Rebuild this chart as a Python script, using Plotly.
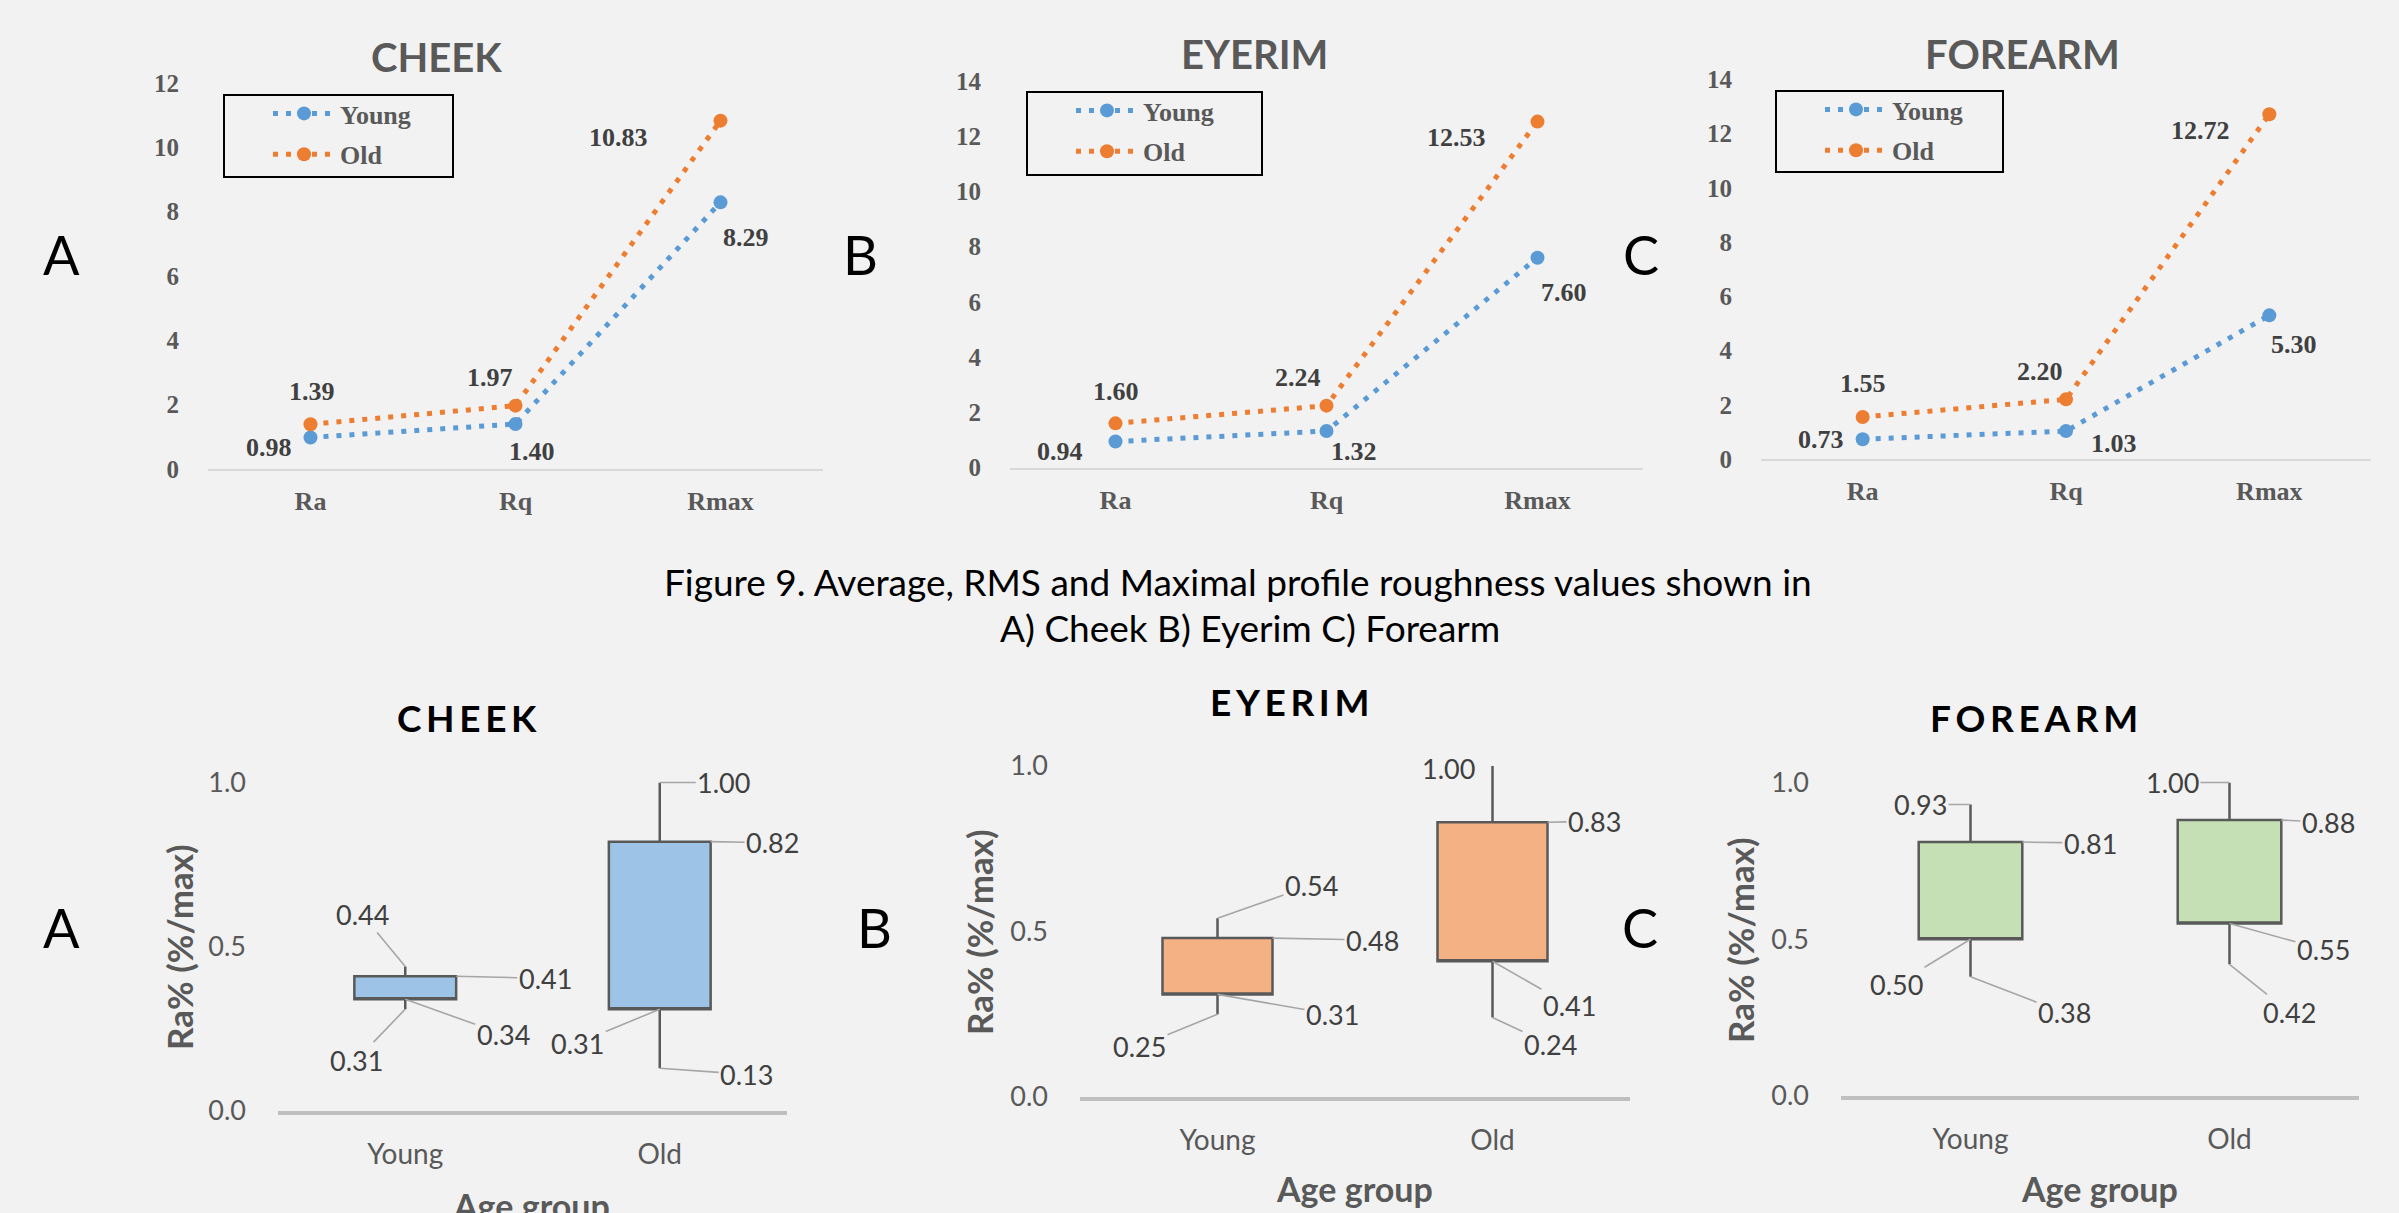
import plotly.graph_objects as go

W, H = 2399, 1213

# ---------------- data ----------------
metrics = ["Ra", "Rq", "Rmax"]
cheek_young = [0.98, 1.40, 8.29]
cheek_old = [1.39, 1.97, 10.83]
eyerim_young = [0.94, 1.32, 7.60]
eyerim_old = [1.60, 2.24, 12.53]
forearm_young = [0.73, 1.03, 5.30]
forearm_old = [1.55, 2.20, 12.72]

age_groups = ["Young", "Old"]
cheek_min = [0.31, 0.13]
cheek_q1 = [0.34, 0.31]
cheek_q3 = [0.41, 0.82]
cheek_max = [0.44, 1.00]
eyerim_min = [0.25, 0.24]
eyerim_q1 = [0.31, 0.41]
eyerim_q3 = [0.48, 0.83]
eyerim_max = [0.54, 1.00]
forearm_min = [0.38, 0.42]
forearm_q1 = [0.50, 0.55]
forearm_q3 = [0.81, 0.88]
forearm_max = [0.93, 1.00]

site_titles = ["CHEEK", "EYERIM", "FOREARM"]
panel_letters = ["A", "B", "C"]
top_y_max = [12, 14, 14]
bottom_y_ticks = [0.0, 0.5, 1.0]
caption_lines = ["Figure 9. Average, RMS and Maximal profile roughness values shown in",
                 "A) Cheek B) Eyerim C) Forearm"]
y_title = "Ra% (%/max)"
x_title = "Age group"

# ---------------- style ----------------
BG = "#F2F2F2"
BLUE = "#5B9BD5"
ORANGE = "#ED7D31"
BOX_FILLS = ["#9DC3E6", "#F4B183", "#C5E0B4"]
SERIF = "Liberation Serif"
SANS = "Lato"


def dx(a, b):
    return [a / W, b / W]


def dy(top, bottom):
    return [1 - bottom / H, 1 - top / H]


def pp(x, y):
    return x / W, 1 - y / H


top_cfg = [
    dict(x=(208, 823), y=(83, 469), title=(436, 57), letter=(61, 254), legend=(224, 95, 453, 177),
         off_y=[(-42, 10.5), (16, 28), (25, 35)], off_o=[(1, -33), (-26, -28), (-102, 17)]),
    dict(x=(1010, 1643), y=(81, 467.5), title=(1254, 54), letter=(861, 254), legend=(1027, 92, 1262, 175),
         off_y=[(-56, 10), (27, 20), (26, 35)], off_o=[(0, -32), (-29, -28), (-81, 16)]),
    dict(x=(1761, 2371), y=(79.5, 459), title=(2022, 54), letter=(1641, 254), legend=(1776, 91, 2003, 172),
         off_y=[(-42, 0), (48, 12), (25, 29)], off_o=[(0, -33), (-26, -27.5), (-69, 16)]),
]
top_data = [(cheek_young, cheek_old), (eyerim_young, eyerim_old), (forearm_young, forearm_old)]

bot_cfg = [
    dict(x=(278, 787), y=(782.5, 1111), title=(467, 717), letter=(61, 927), ytitle=(179, 947), xtitle=(531, 1205),
         off={"max": [(0, -43, -52, True), (0, 64, 0, True)],
              "q3": [(0.2, 89, 2, True), (0.2, 62, 1, True)],
              "q1": [(0, 98, 35, True), (0, -82, 34, True)],
              "min": [(0, -49, 51, True), (0, 87, 6, True)]}),
    dict(x=(1080, 1630), y=(766, 1097), title=(1289, 702), letter=(875, 927), ytitle=(979, 932), xtitle=(1354, 1188),
         off={"max": [(0, 94, -33, True), (0, -44, 2, False)],
              "q3": [(0.2, 100, 2, True), (0.2, 47, -1, True)],
              "q1": [(0, 115, 20, True), (0, 77, 44, True)],
              "min": [(0, -78, 32, True), (0, 58, 27, True)]}),
    dict(x=(1841, 2359), y=(782.5, 1096), title=(2034, 717), letter=(1640, 927), ytitle=(1740, 940), xtitle=(2099, 1188),
         off={"max": [(0, -50, 0, True), (0, -57, 0, True)],
              "q3": [(0.2, 68, 1, True), (0.2, 47, 2, True)],
              "q1": [(0, -74, 45, True), (0, 94, 26, True)],
              "min": [(0, 94, 36, True), (0, 60, 48, True)]}),
]
bot_data = [
    dict(min=cheek_min, q1=cheek_q1, q3=cheek_q3, max=cheek_max),
    dict(min=eyerim_min, q1=eyerim_q1, q3=eyerim_q3, max=eyerim_max),
    dict(min=forearm_min, q1=forearm_q1, q3=forearm_q3, max=forearm_max),
]

fig = go.Figure()
layout = dict(width=W, height=H, margin=dict(l=0, r=0, t=0, b=0, pad=0, autoexpand=False),
              paper_bgcolor=BG, plot_bgcolor=BG, showlegend=True, template="none")
annotations = []
shapes = []

# ---------------- top line charts ----------------
for i, cfg in enumerate(top_cfg):
    n = i + 1
    xs = "x" if n == 1 else f"x{n}"
    ys = "y" if n == 1 else f"y{n}"
    lg = "legend" if n == 1 else f"legend{n}"
    young, old = top_data[i]
    for name, vals, col in (("Young", young, BLUE), ("Old", old, ORANGE)):
        fig.add_trace(go.Scatter(
            x=metrics, y=vals, mode="lines+markers", name=name,
            line=dict(color=col, width=5, dash="5px,8px"),
            marker=dict(size=14, color=col),
            xaxis=xs, yaxis=ys, legend=lg, legendgroup=f"{name}{n}", hoverinfo="skip"))
    layout["xaxis" if n == 1 else f"xaxis{n}"] = dict(
        domain=dx(*cfg["x"]), anchor=ys, type="category", categoryarray=metrics,
        range=[-0.5, 2.5], showline=True, linecolor="#D9D9D9", linewidth=2,
        showgrid=False, zeroline=False, ticks="", ticklabelstandoff=8, automargin=False,
        tickfont=dict(family=SERIF, size=26, color="#595959", weight="bold"))
    layout["yaxis" if n == 1 else f"yaxis{n}"] = dict(
        domain=dy(*cfg["y"]), anchor=xs, range=[0, top_y_max[i]], dtick=2,
        showline=False, showgrid=False, zeroline=False, ticks="", ticklabelstandoff=28,
        automargin=False,
        tickfont=dict(family=SERIF, size=25, color="#595959", weight="bold"))
    lx0, ly0, lx1, ly1 = cfg["legend"]
    shapes.append(dict(type="rect", xref="paper", yref="paper",
                       x0=lx0 / W, x1=lx1 / W, y0=1 - ly1 / H, y1=1 - ly0 / H,
                       line=dict(color="black", width=2), fillcolor="rgba(0,0,0,0)"))
    layout[lg] = dict(x=(lx0 + 44) / W, y=1 - (ly0 - 5) / H, xanchor="left", yanchor="top",
                      bgcolor="rgba(0,0,0,0)", borderwidth=0, tracegroupgap=4, itemwidth=62,
                      font=dict(family=SERIF, size=26, color="#595959", weight="bold"))
    for vals, offs in ((young, cfg["off_y"]), (old, cfg["off_o"])):
        for k, v in enumerate(vals):
            annotations.append(dict(
                x=k, y=v, xref=xs, yref=ys, text=f"{v:.2f}", showarrow=False,
                xshift=offs[k][0], yshift=-offs[k][1],
                font=dict(family=SERIF, size=26, color="#404040", weight="bold")))
    tx, ty = pp(*cfg["title"])
    annotations.append(dict(x=tx, y=ty, xref="paper", yref="paper", text=site_titles[i],
                            showarrow=False, xanchor="center", yanchor="middle",
                            font=dict(family=SANS, size=40, color="#595959", weight="bold")))
    lx, ly = pp(*cfg["letter"])
    annotations.append(dict(x=lx, y=ly, xref="paper", yref="paper", text=panel_letters[i],
                            showarrow=False, xanchor="center", yanchor="middle",
                            font=dict(family=SANS, size=54, color="black")))

# ---------------- caption ----------------
for text, (cx, cy) in zip(caption_lines, [(1238, 581), (1250, 627)]):
    x, y = pp(cx, cy)
    annotations.append(dict(x=x, y=y, xref="paper", yref="paper", text=text, showarrow=False,
                            xanchor="center", yanchor="middle",
                            font=dict(family=SANS, size=37, color="black")))

# ---------------- bottom box charts ----------------
for i, cfg in enumerate(bot_cfg):
    n = i + 4
    xs, ys = f"x{n}", f"y{n}"
    d = bot_data[i]
    fig.add_trace(go.Box(
        x=age_groups, q1=d["q1"], median=d["q1"], q3=d["q3"],
        lowerfence=d["min"], upperfence=d["max"], width=0.4, whiskerwidth=0,
        fillcolor=BOX_FILLS[i], line=dict(color="#595959", width=2.5),
        boxpoints=False, showlegend=False, hoverinfo="skip", xaxis=xs, yaxis=ys))
    layout[f"xaxis{n}"] = dict(
        domain=dx(*cfg["x"]), anchor=ys, type="category", categoryarray=age_groups,
        range=[-0.5, 1.5], showline=True, linecolor="#BFBFBF", linewidth=4,
        showgrid=False, zeroline=False, ticks="", ticklabelstandoff=15, automargin=False,
        tickfont=dict(family=SANS, size=28, color="#595959"))
    layout[f"yaxis{n}"] = dict(
        domain=dy(*cfg["y"]), anchor=xs, range=[0, 1.0], tickvals=bottom_y_ticks,
        tickformat=".1f", showline=False, showgrid=False, zeroline=False, ticks="",
        automargin=False,
        ticklabelstandoff=31, tickfont=dict(family=SANS, size=27, color="#595959"))
    for stat in ("max", "q3", "q1", "min"):
        for g in range(len(age_groups)):
            v = d[stat][g]
            adx, ax, ay, leader = cfg["off"][stat][g]
            ann = dict(x=g + adx, y=v, xref=xs, yref=ys, text=f"{v:.2f}",
                       font=dict(family=SANS, size=27, color="#404040"))
            if leader:
                ann.update(showarrow=True, ax=ax, ay=ay, arrowhead=0, arrowwidth=1.6,
                           arrowcolor="#A6A6A6", standoff=0)
            else:
                ann.update(showarrow=False, xshift=ax, yshift=-ay)
            annotations.append(ann)
    tx, ty = pp(*cfg["title"])
    annotations.append(dict(x=tx, y=ty, xref="paper", yref="paper",
                            text="\u2009".join(site_titles[i]),
                            showarrow=False, xanchor="center", yanchor="middle",
                            font=dict(family=SANS, size=37, color="black", weight="bold")))
    lx, ly = pp(*cfg["letter"])
    annotations.append(dict(x=lx, y=ly, xref="paper", yref="paper", text=panel_letters[i],
                            showarrow=False, xanchor="center", yanchor="middle",
                            font=dict(family=SANS, size=54, color="black")))
    yx, yy = pp(*cfg["ytitle"])
    annotations.append(dict(x=yx, y=yy, xref="paper", yref="paper", text=y_title, textangle=-90,
                            showarrow=False, xanchor="center", yanchor="middle",
                            font=dict(family=SANS, size=35, color="#595959", weight="bold")))
    ax_, ay_ = pp(*cfg["xtitle"])
    annotations.append(dict(x=ax_, y=ay_, xref="paper", yref="paper", text=x_title,
                            showarrow=False, xanchor="center", yanchor="middle",
                            font=dict(family=SANS, size=34, color="#595959", weight="bold")))

layout["annotations"] = annotations
layout["shapes"] = shapes
fig.update_layout(**layout)
fig.write_html("out.html", config={"displayModeBar": False},
               post_script="document.body.style.margin='0';"
                           "document.body.style.background='#F2F2F2';")
